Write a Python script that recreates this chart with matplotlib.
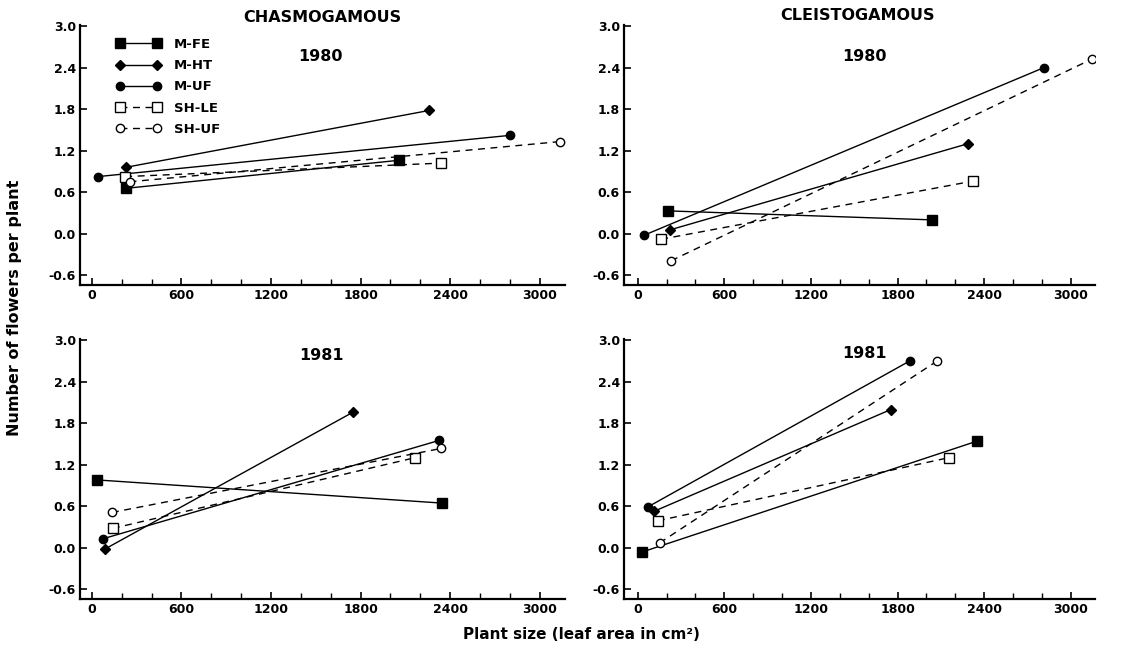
import matplotlib
matplotlib.use("Agg")
import matplotlib.pyplot as plt
from matplotlib.ticker import MultipleLocator, FormatStrFormatter

plt.rcParams['font.family'] = ['DejaVu Sans']
plt.rcParams['font.weight'] = 'bold'
plt.rcParams['axes.unicode_minus'] = False

series = ["M-FE", "M-HT", "M-UF", "SH-LE", "SH-UF"]

# leaf area (cm2) / flowers per plant, two end points per regression line
chas80_x = [[226, 2055], [230, 2259], [40, 2799], [223, 2341], [252, 3134]]
chas80_y = [[0.655, 1.06], [0.96, 1.78], [0.825, 1.42], [0.825, 1.02], [0.75, 1.33]]

cleis80_x = [[208, 2040], [222, 2287], [46, 2815], [162, 2322], [231, 3144]]
cleis80_y = [[0.33, 0.20], [0.055, 1.30], [-0.02, 2.40], [-0.08, 0.76], [-0.39, 2.52]]

chas81_x = [[33, 2348], [89, 1751], [71, 2326], [140, 2163], [134, 2342]]
chas81_y = [[0.98, 0.645], [-0.016, 1.96], [0.128, 1.55], [0.28, 1.30], [0.51, 1.435]]

cleis81_x = [[26, 2350], [111, 1752], [70, 1886], [139, 2153], [151, 2076]]
cleis81_y = [[-0.064, 1.54], [0.525, 1.995], [0.59, 2.70], [0.39, 1.30], [0.07, 2.70]]

yticks = [-0.6, 0.0, 0.6, 1.2, 1.8, 2.4, 3.0]
xticks = [0, 600, 1200, 1800, 2400, 3000]

styles = [
    dict(ls="-", marker="s", ms=7, mfc="black"),
    dict(ls="-", marker="D", ms=5, mfc="black"),
    dict(ls="-", marker="o", ms=6, mfc="black"),
    dict(ls=(0, (5, 4)), marker="s", ms=7, mfc="white"),
    dict(ls=(0, (5, 4)), marker="o", ms=6, mfc="white"),
]

fig = plt.figure(figsize=(11.25, 6.49), dpi=100)

def panel(rect, xs, ys, xlim):
    ax = fig.add_axes(rect)
    for i in range(len(series)):
        ax.plot(xs[i], ys[i], color="black", lw=1.0, mec="black", mew=1.0,
                label=series[i], **styles[i])
    ax.set_xlim(*xlim)
    ax.set_ylim(-0.74, 3.02)
    ax.set_xticks(xticks)
    ax.set_yticks(yticks)
    ax.xaxis.set_minor_locator(MultipleLocator(200))
    ax.yaxis.set_major_formatter(FormatStrFormatter("%.1f"))
    for s in ["top", "right"]:
        ax.spines[s].set_visible(False)
    for s in ["left", "bottom"]:
        ax.spines[s].set_linewidth(1.6)
    ax.tick_params(direction="in", length=5, width=1.2, labelsize=9, pad=3)
    ax.tick_params(which="minor", direction="in", length=4, width=1.0)
    for lab in ax.get_xticklabels() + ax.get_yticklabels():
        lab.set_fontweight("bold")
    return ax

ax1 = panel([0.0711, 0.5609, 0.4311, 0.4012], chas80_x, chas80_y, (-80, 3170))
ax2 = panel([0.5547, 0.5609, 0.4187, 0.4012], cleis80_x, cleis80_y, (-95, 3168))
ax3 = panel([0.0711, 0.0770, 0.4311, 0.4012], chas81_x, chas81_y, (-80, 3170))
ax4 = panel([0.5547, 0.0770, 0.4187, 0.4012], cleis81_x, cleis81_y, (-95, 3168))

ax1.legend(loc="upper left", bbox_to_anchor=(116 / 1125, 1 - 38 / 649),
           bbox_transform=fig.transFigure, frameon=False, numpoints=2,
           handlelength=3.4, handletextpad=1.0, labelspacing=0.62,
           borderpad=0, borderaxespad=0, prop={"size": 9.5, "weight": "bold"})

fig.text(0.2862, 0.9738, "CHASMOGAMOUS", ha="center", va="center", fontsize=11.5, fontweight="bold")
fig.text(0.7618, 0.9768, "CLEISTOGAMOUS", ha="center", va="center", fontsize=11.5, fontweight="bold")
fig.text(0.2844, 0.9122, "1980", ha="center", va="center", fontsize=11.5, fontweight="bold")
fig.text(0.768, 0.9122, "1980", ha="center", va="center", fontsize=11.5, fontweight="bold")
fig.text(0.2853, 0.453, "1981", ha="center", va="center", fontsize=11.5, fontweight="bold")
fig.text(0.768, 0.456, "1981", ha="center", va="center", fontsize=11.5, fontweight="bold")

fig.text(0.5164, 0.0231, "Plant size (leaf area in cm²)", ha="center", va="center",
         fontsize=11, fontweight="bold")
fig.text(0.0133, 0.525, "Number of flowers per plant", ha="center", va="center",
         rotation=90, fontsize=11.5, fontweight="bold")

fig.savefig("out.png", dpi=100)
